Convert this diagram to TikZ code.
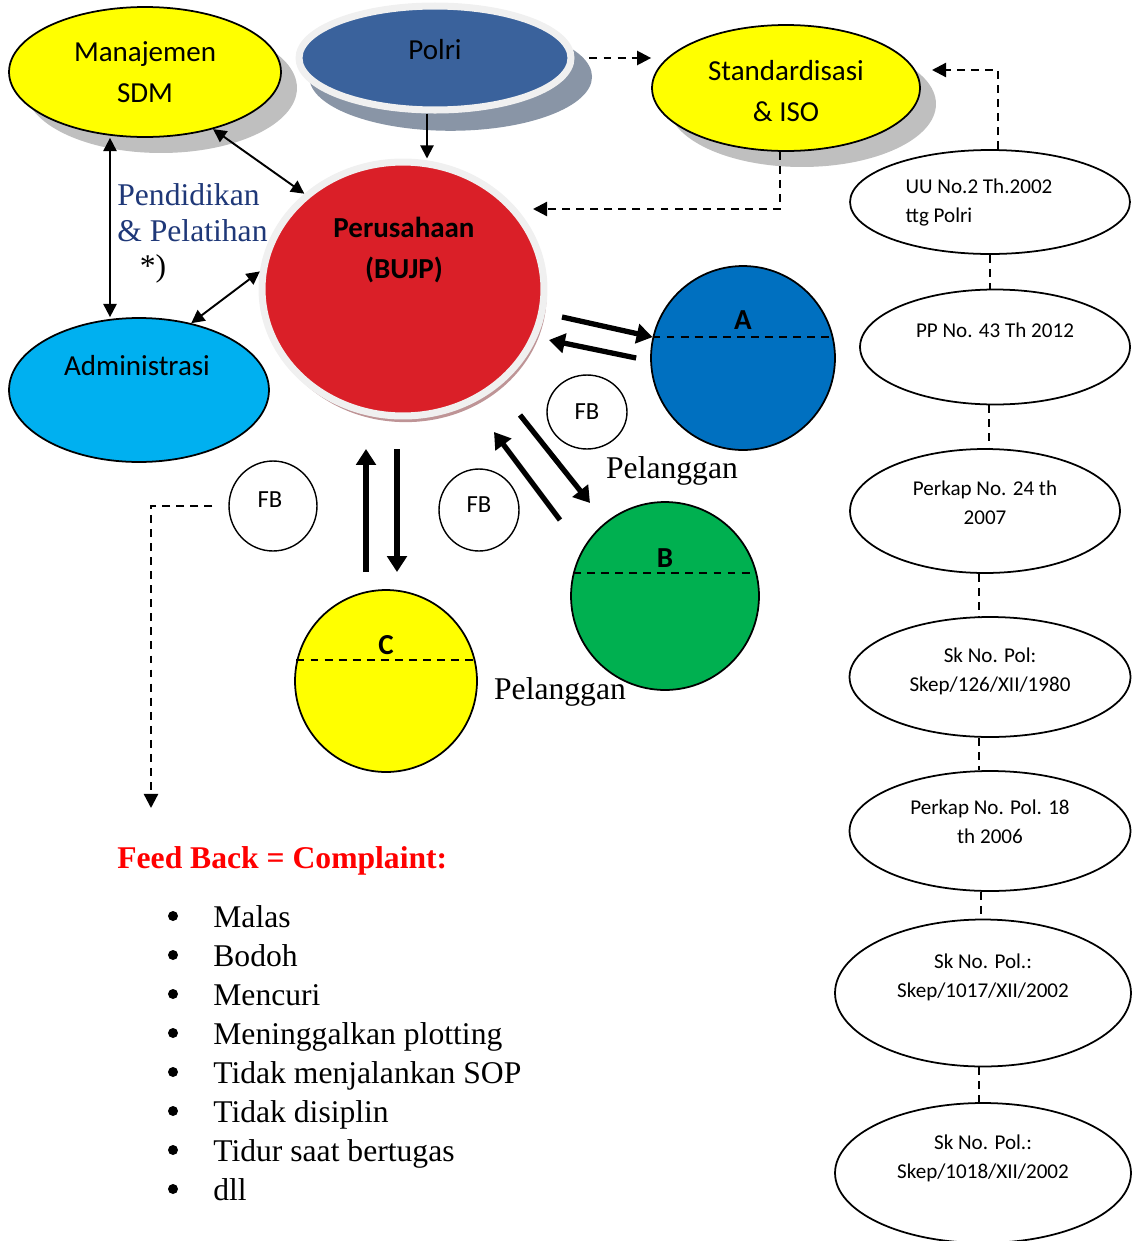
\documentclass[tikz,border=0pt]{standalone}
\usepackage{fontspec}
\setmainfont{Liberation Serif}
\setsansfont{Carlito}
\usepackage{tikz}
\usetikzlibrary{arrows.meta, shapes.geometric, shadows}
\definecolor{sdmyellow}{RGB}{255,255,0}
\definecolor{polriblue}{RGB}{58,98,156}
\definecolor{polrishade}{RGB}{137,149,166}
\definecolor{bujpred}{RGB}{218,31,40}
\definecolor{bujpshade}{RGB}{190,148,150}
\definecolor{admblue}{RGB}{0,176,240}
\definecolor{plgblue}{RGB}{0,112,192}
\definecolor{plggreen}{RGB}{0,176,80}
\definecolor{navy}{RGB}{31,56,120}
\definecolor{fbred}{RGB}{255,0,0}

\tikzset{
  blob/.style={ellipse, draw, line width=1pt, inner sep=0pt, align=center, font=\sffamily\fontsize{16.5}{23}\selectfont},
  gshadow/.style={drop shadow={shadow xshift=0.32cm, shadow yshift=-0.32cm, fill=black!25, opacity=1}},
  word/.style={inner sep=0pt, align=center, font=\sffamily\fontsize{16.5}{23}\selectfont},
  ball/.style={circle, draw, line width=1pt, inner sep=0pt},
  tag/.style={inner sep=0pt, font=\sffamily\bfseries\fontsize{16.5}{20}\selectfont},
  fb/.style={ellipse, draw, line width=0.8pt, inner sep=0pt},
  fbtxt/.style={inner sep=0pt, font=\sffamily\fontsize{14}{16}\selectfont},
  law/.style={ellipse, draw, line width=1pt, inner sep=0pt},
  lawtxt/.style={inner sep=0pt, align=center, font=\sffamily\fontsize{12}{16.5}\selectfont},
  txt/.style={inner sep=0pt, font=\fontsize{18}{20.4}\selectfont},
  dot/.style={circle, fill, inner sep=0pt, minimum size=0.2cm},
  cut/.style={line width=1.3pt, dash pattern=on 4.5pt off 3.5pt},
  link/.style={line width=1.1pt, -{Triangle[length=7.5pt,width=7.5pt]}},
  links/.style={line width=1.1pt, {Triangle[length=7.5pt,width=7.5pt]}-{Triangle[length=7.5pt,width=7.5pt]}},
  dlink/.style={line width=1.3pt, dash pattern=on 4.5pt off 3.5pt, -{Triangle[length=8pt,width=8pt]}},
  fat/.style={line width=3pt, -{Triangle[length=9pt,width=11pt]}},
}

\begin{document}
\begin{tikzpicture}[x=0.02cm, y=-0.02cm]
    \useasboundingbox (0,0) rectangle (1133,1241);

    % main bubbles
    \node[blob, fill=sdmyellow, gshadow, minimum width=5.44cm, minimum height=2.6cm] (sdm) at (145,72) {Manajemen\\SDM};
    \node[blob, fill=polriblue, draw=black!6, line width=4pt, minimum width=5.44cm, minimum height=2.08cm,
          drop shadow={shadow xshift=0.3cm, shadow yshift=-0.36cm, shadow scale=1.04, fill=polrishade, opacity=1}] (polri) at (435,58) {};
    \node[word] (polritxt) at (435,50) {Polri};
    \node[blob, fill=sdmyellow, gshadow, minimum width=5.36cm, minimum height=2.52cm] (iso) at (786,88) {};
    \node[word] (isotxt) at (786,91) {Standardisasi\\\& ISO};
    \node[blob, fill=admblue, minimum width=5.2cm, minimum height=2.88cm] (adm) at (139,390) {};
    \node[word] (admtxt) at (137,366) {Administrasi};
    \node[blob, fill=bujpred, draw=black!6, line width=4pt, minimum width=5.64cm, minimum height=5.08cm,
          drop shadow={shadow xshift=1.5pt, shadow yshift=-3.5pt, fill=bujpshade, opacity=1}] (bujp) at (403,289) {};
    \node[word, font=\sffamily\bfseries\fontsize{16.5}{23}\selectfont] (bujptxt) at (404,250) {Perusahaan\\(BUJP)};

    % pelanggan A, B, C
    \node[ball, fill=plgblue, minimum size=3.68cm] (A) at (743,358) {};
    \node[ball, fill=plggreen, minimum size=3.76cm] (B) at (665,596) {};
    \node[ball, fill=sdmyellow, minimum size=3.64cm] (C) at (386,681) {};
    \draw[cut] (A.167) -- (A.13);
    \draw[cut] (B.166) -- (B.14);
    \draw[cut] (C.167) -- (C.13);
    \node[tag] (Atag) at (743,320) {A};
    \node[tag] (Btag) at (665,558) {B};
    \node[tag] (Ctag) at (386,645) {C};

    \node[fb, minimum width=1.6cm, minimum height=1.48cm] (fbA) at (587,412) {};
    \node[fb, minimum width=1.6cm, minimum height=1.64cm] (fbB) at (479,510) {};
    \node[fb, minimum width=1.76cm, minimum height=1.8cm] (fbC) at (273,506) {};
    \node[fbtxt] (fbAtxt) at (587,412) {FB};
    \node[fbtxt] (fbBtxt) at (479,505) {FB};
    \node[fbtxt] (fbCtxt) at (270,500) {FB};

    % regulations
    \node[law, minimum width=5.6cm, minimum height=2.08cm] (uu) at (990,202) {};
    \node[lawtxt, align=left] (uutxt) at (979,202) {UU No.2 Th.2002\\ttg Polri};
    \node[law, minimum width=5.4cm, minimum height=2.3cm] (pp) at (995,347) {};
    \node[lawtxt] (pptxt) at (995,330) {PP No. 43 Th 2012};
    \node[law, minimum width=5.4cm, minimum height=2.48cm] (pka) at (985,511) {};
    \node[lawtxt] (pkatxt) at (985,503) {Perkap No. 24 th\\2007};
    \node[law, minimum width=5.62cm, minimum height=2.4cm] (ska) at (990,677) {};
    \node[lawtxt] (skatxt) at (990,671) {Sk No. Pol:\\Skep/126/XII/1980};
    \node[law, minimum width=5.62cm, minimum height=2.4cm] (pkb) at (990,831) {};
    \node[lawtxt] (pkbtxt) at (990,822) {Perkap No. Pol. 18\\th 2006};
    \node[law, minimum width=5.92cm, minimum height=2.94cm] (skb) at (983,993) {};
    \node[lawtxt] (skbtxt) at (983,977) {Sk No. Pol.:\\Skep/1017/XII/2002};
    \node[law, minimum width=5.92cm, minimum height=2.8cm] (skc) at (983,1173) {};
    \node[lawtxt] (skctxt) at (983,1158) {Sk No. Pol.:\\Skep/1018/XII/2002};

    \draw[cut] (uu.south) -- (uu.south |- pp.north);
    \draw[cut] ([xshift=-0.12cm]pp.south) -- ([xshift=-0.12cm]pp.south |- pka.north);
    \draw[cut] ([xshift=-0.12cm]pka.south) -- ([xshift=-0.12cm]pka.south |- ska.north);
    \draw[cut] ([xshift=-0.22cm]ska.south) -- ([xshift=-0.22cm]ska.south |- pkb.north);
    \draw[cut] ([xshift=-0.18cm]pkb.south) -- ([xshift=-0.18cm]pkb.south |- skb.north);
    \draw[cut] ([xshift=-0.08cm]skb.south) -- ([xshift=-0.08cm]skb.south |- skc.north);

    % connectors
    \coordinate (isohook) at (932,70);
    \coordinate (isoin) at (533,209);
    \coordinate (fbdrop) at (151,808);
    \draw[dlink] ([xshift=0.16cm]uu.north) |- (isohook);
    \draw[dlink] ([xshift=0.3cm]polri.east) -- (iso.west |- polri.east);
    \draw[dlink] ([xshift=-0.12cm]iso.south) |- (isoin);
    \draw[dlink] ([xshift=-0.32cm]fbC.west) -| (fbdrop);
    \draw[link] ([xshift=-0.16cm]polri.south) -- ([xshift=-0.16cm]polri.south |- bujp.north);
    \draw[links] (sdm.-40) -- (bujp.136);
    \draw[links] (adm.52) -- (bujp.173);
    \draw[links] ([xshift=-0.7cm]sdm.south) -- ([xshift=-0.7cm]sdm.south |- adm.north);

    \coordinate (a1) at (562,317);
    \coordinate (a2) at (549,340);
    \coordinate (b1) at (520,415);
    \coordinate (b2) at (590,503);
    \coordinate (b3) at (560,520);
    \coordinate (b4) at (494,432);
    \coordinate (c1) at (366,572);
    \coordinate (c2) at (366,449);
    \coordinate (c3) at (397,449);
    \coordinate (c4) at (397,572);
    \draw[fat] (a1) -- (A.167);
    \draw[fat] ([xshift=-0.28cm]A.west) -- (a2);
    \draw[fat] (b1) -- (b2);
    \draw[fat] (b3) -- (b4);
    \draw[fat] (c1) -- (c2);
    \draw[fat] (c3) -- (c4);

    % captions
    \node[txt, text=navy, align=left, anchor=west] (edu) at (117,213) {Pendidikan\\\& Pelatihan};
    \node[txt] (note) at (153,269) {*)};
    \node[txt] (plgAtxt) at (672,471) {Pelanggan};
    \node[txt] (plgCtxt) at (560,692) {Pelanggan};

    \node[txt, anchor=west, text=fbred, font=\bfseries\fontsize{18}{20}\selectfont] (fbtitle) at (117,861) {Feed Back = Complaint:};
    \foreach \entry [count=\i from 0] in {Malas, Bodoh, Mencuri, Meninggalkan plotting, Tidak menjalankan SOP, Tidak disiplin, Tidur saat bertugas, dll}{
        \node[dot] (dot\i) at (173,916+39*\i) {};
        \node[txt, anchor=base west] (item\i) at (213,927+39*\i) {\entry};
    }
\end{tikzpicture}
\end{document}
